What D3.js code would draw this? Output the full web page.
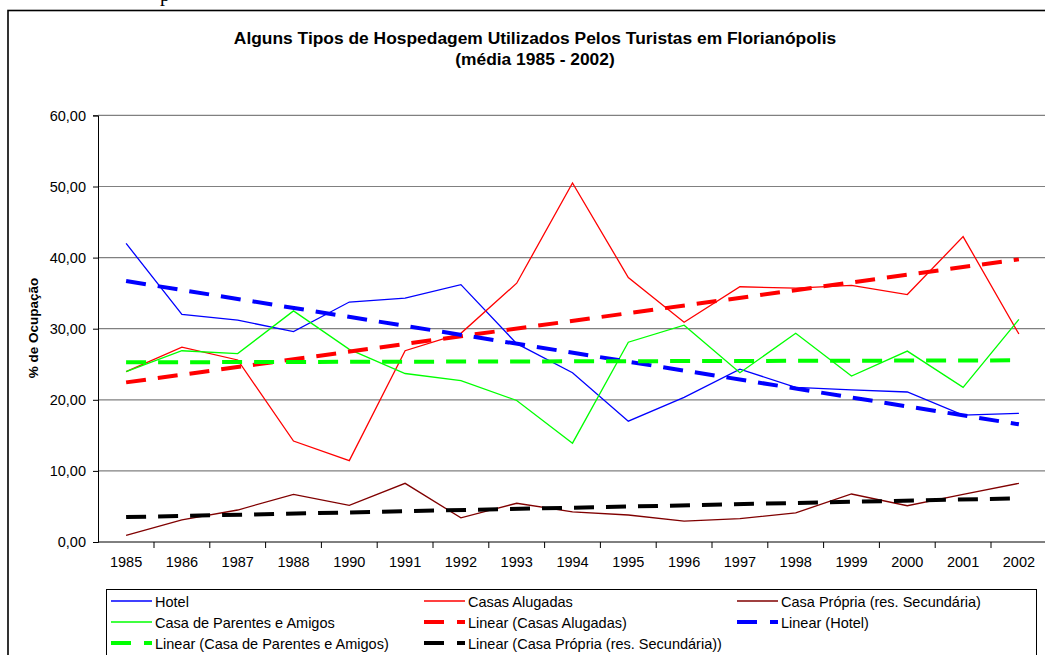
<!DOCTYPE html>
<html>
<head>
<meta charset="utf-8">
<script src="https://cdn.jsdelivr.net/npm/d3@7"></script>
<style>
body { margin: 0; background: #fff; overflow: hidden; }
text { font-family: Arial, "Liberation Sans", sans-serif; }
</style>
</head>
<body>
<script>
// data
var years = ["1985","1986","1987","1988","1990","1991","1992","1993","1994","1995","1996","1997","1998","1999","2000","2001","2002"];
var hotel = [42.0,32.0,31.2,29.6,33.75,34.3,36.2,27.9,23.8,17.0,20.35,24.3,21.75,21.4,21.1,17.85,18.1];
var casasAlugadas = [23.95,27.4,25.6,14.2,11.45,26.9,29.35,36.4,50.5,37.2,30.9,35.9,35.7,36.1,34.8,42.95,29.25];
var casaParentes = [23.95,26.9,26.5,32.5,27.1,23.7,22.7,19.9,13.9,28.1,30.5,23.8,29.35,23.35,26.85,21.75,31.3];
var casaPropria = [0.94,3.1,4.5,6.7,5.15,8.25,3.4,5.45,4.25,3.8,2.95,3.3,4.1,6.75,5.1,6.7,8.25];
// trend line end values (first year, last year)
var trendHotel = [36.7,16.55];
var trendAlugadas = [22.45,39.75];
var trendParentes = [25.27,25.55];
var trendPropria = [3.5,6.15];
var yTicks = [0,10,20,30,40,50,60];

var svg = d3.select("body").append("svg").attr("width",1045).attr("height",655);

// bit of document text above the chart
svg.append("text").attr("x",160).attr("y",1).style("font-family","'Liberation Serif', serif").style("font-size","20px").text("p");

// outer chart border
svg.append("rect").attr("x",8).attr("y",10.5).attr("width",1100).attr("height",700)
  .attr("fill","none").attr("stroke","#000").attr("stroke-width",1.6);

var x = d3.scaleBand().domain(years).range([98.2, 98.2 + 17*55.8]).padding(0);
var y = d3.scaleLinear().domain([0,60]).range([542, 115.4]);
var cx = function(i){ return x(years[i]) + x.bandwidth()/2; };

// gridlines
svg.append("g").selectAll("line").data(yTicks.slice(1)).join("line")
  .attr("x1",98).attr("x2",1045).attr("y1",d => y(d)).attr("y2",d => y(d))
  .attr("stroke","#808080").attr("stroke-width",1.2);

// y axis
var fmt = function(d){ return d3.format(".2f")(d).replace(".",","); };
var yAxis = svg.append("g").attr("transform","translate(98,0)")
  .call(d3.axisLeft(y).tickValues(yTicks).tickFormat(fmt).tickSize(5).tickPadding(7));
yAxis.select(".domain").attr("stroke","#000");
yAxis.selectAll("text").style("font-size","14.5px").style("font-family","Arial, 'Liberation Sans'").attr("fill","#000");

// x axis with ticks between categories
var xAxis = svg.append("g").attr("transform","translate(0,542)")
  .call(d3.axisBottom(x).tickSize(0).tickPadding(15));
xAxis.select(".domain").remove();
xAxis.selectAll("text").style("font-size","14.5px").style("font-family","Arial, 'Liberation Sans'").attr("fill","#000");
svg.append("line").attr("x1",98).attr("x2",1045).attr("y1",542).attr("y2",542).attr("stroke","#000");
svg.append("g").selectAll("line").data(years.slice(1)).join("line")
  .attr("x1",d => x(d)).attr("x2",d => x(d)).attr("y1",542).attr("y2",548).attr("stroke","#000");

// series
var line = d3.line().x((d,i) => cx(i)).y(d => y(d));
var series = [
  {v: hotel, c: "#0000FF"},
  {v: casasAlugadas, c: "#FF0000"},
  {v: casaPropria, c: "#800000"},
  {v: casaParentes, c: "#00FF00"}
];
series.forEach(function(s){
  svg.append("path").datum(s.v).attr("d", line).attr("fill","none")
    .attr("stroke", s.c).attr("stroke-width",1.3);
});

// trend lines
var trends = [
  {v: trendAlugadas, c: "#FF0000"},
  {v: trendHotel, c: "#0000FF"},
  {v: trendParentes, c: "#00FF00"},
  {v: trendPropria, c: "#000000"}
];
trends.forEach(function(t){
  svg.append("line")
    .attr("x1", cx(0)).attr("y1", y(t.v[0]))
    .attr("x2", cx(years.length-1)).attr("y2", y(t.v[1]))
    .attr("stroke", t.c).attr("stroke-width",4).attr("stroke-dasharray","20,12");
});

// title
svg.append("text").attr("x",535).attr("y",44).attr("text-anchor","middle")
  .style("font-size","17.4px").style("font-weight","bold")
  .text("Alguns Tipos de Hospedagem Utilizados Pelos Turistas em Florianópolis");
svg.append("text").attr("x",535).attr("y",65).attr("text-anchor","middle")
  .style("font-size","17.4px").style("font-weight","bold")
  .text("(média 1985 - 2002)");

// y axis title
svg.append("text").attr("transform","translate(38,328) rotate(-90)").attr("text-anchor","middle")
  .style("font-size","13.5px").style("font-weight","bold").text("% de Ocupação");

// legend
var legendItems = [
  {t: "Hotel", c: "#0000FF", dash: false},
  {t: "Casas Alugadas", c: "#FF0000", dash: false},
  {t: "Casa Própria (res. Secundária)", c: "#800000", dash: false},
  {t: "Casa de Parentes e Amigos", c: "#00FF00", dash: false},
  {t: "Linear (Casas Alugadas)", c: "#FF0000", dash: true},
  {t: "Linear (Hotel)", c: "#0000FF", dash: true},
  {t: "Linear (Casa de Parentes e Amigos)", c: "#00FF00", dash: true},
  {t: "Linear (Casa Própria (res. Secundária))", c: "#000000", dash: true}
];
svg.append("rect").attr("x",106.5).attr("y",589.5).attr("width",930).attr("height",100)
  .attr("fill","#fff").attr("stroke","#000").attr("stroke-width",1);
var lg = svg.append("g").selectAll("g").data(legendItems).join("g")
  .attr("transform",(d,i) => "translate(" + (111 + (i%3)*313) + "," + (601 + Math.floor(i/3)*21) + ")");
lg.append("line").attr("x1",0).attr("x2",41).attr("y1",0).attr("y2",0)
  .attr("stroke",d => d.c).attr("stroke-width",d => d.dash ? 4 : 1.5)
  .attr("stroke-dasharray",d => d.dash ? "20,13" : null);
lg.append("text").attr("x",44).attr("y",5.5).style("font-size","14.5px").text(d => d.t);
</script>
</body>
</html>
